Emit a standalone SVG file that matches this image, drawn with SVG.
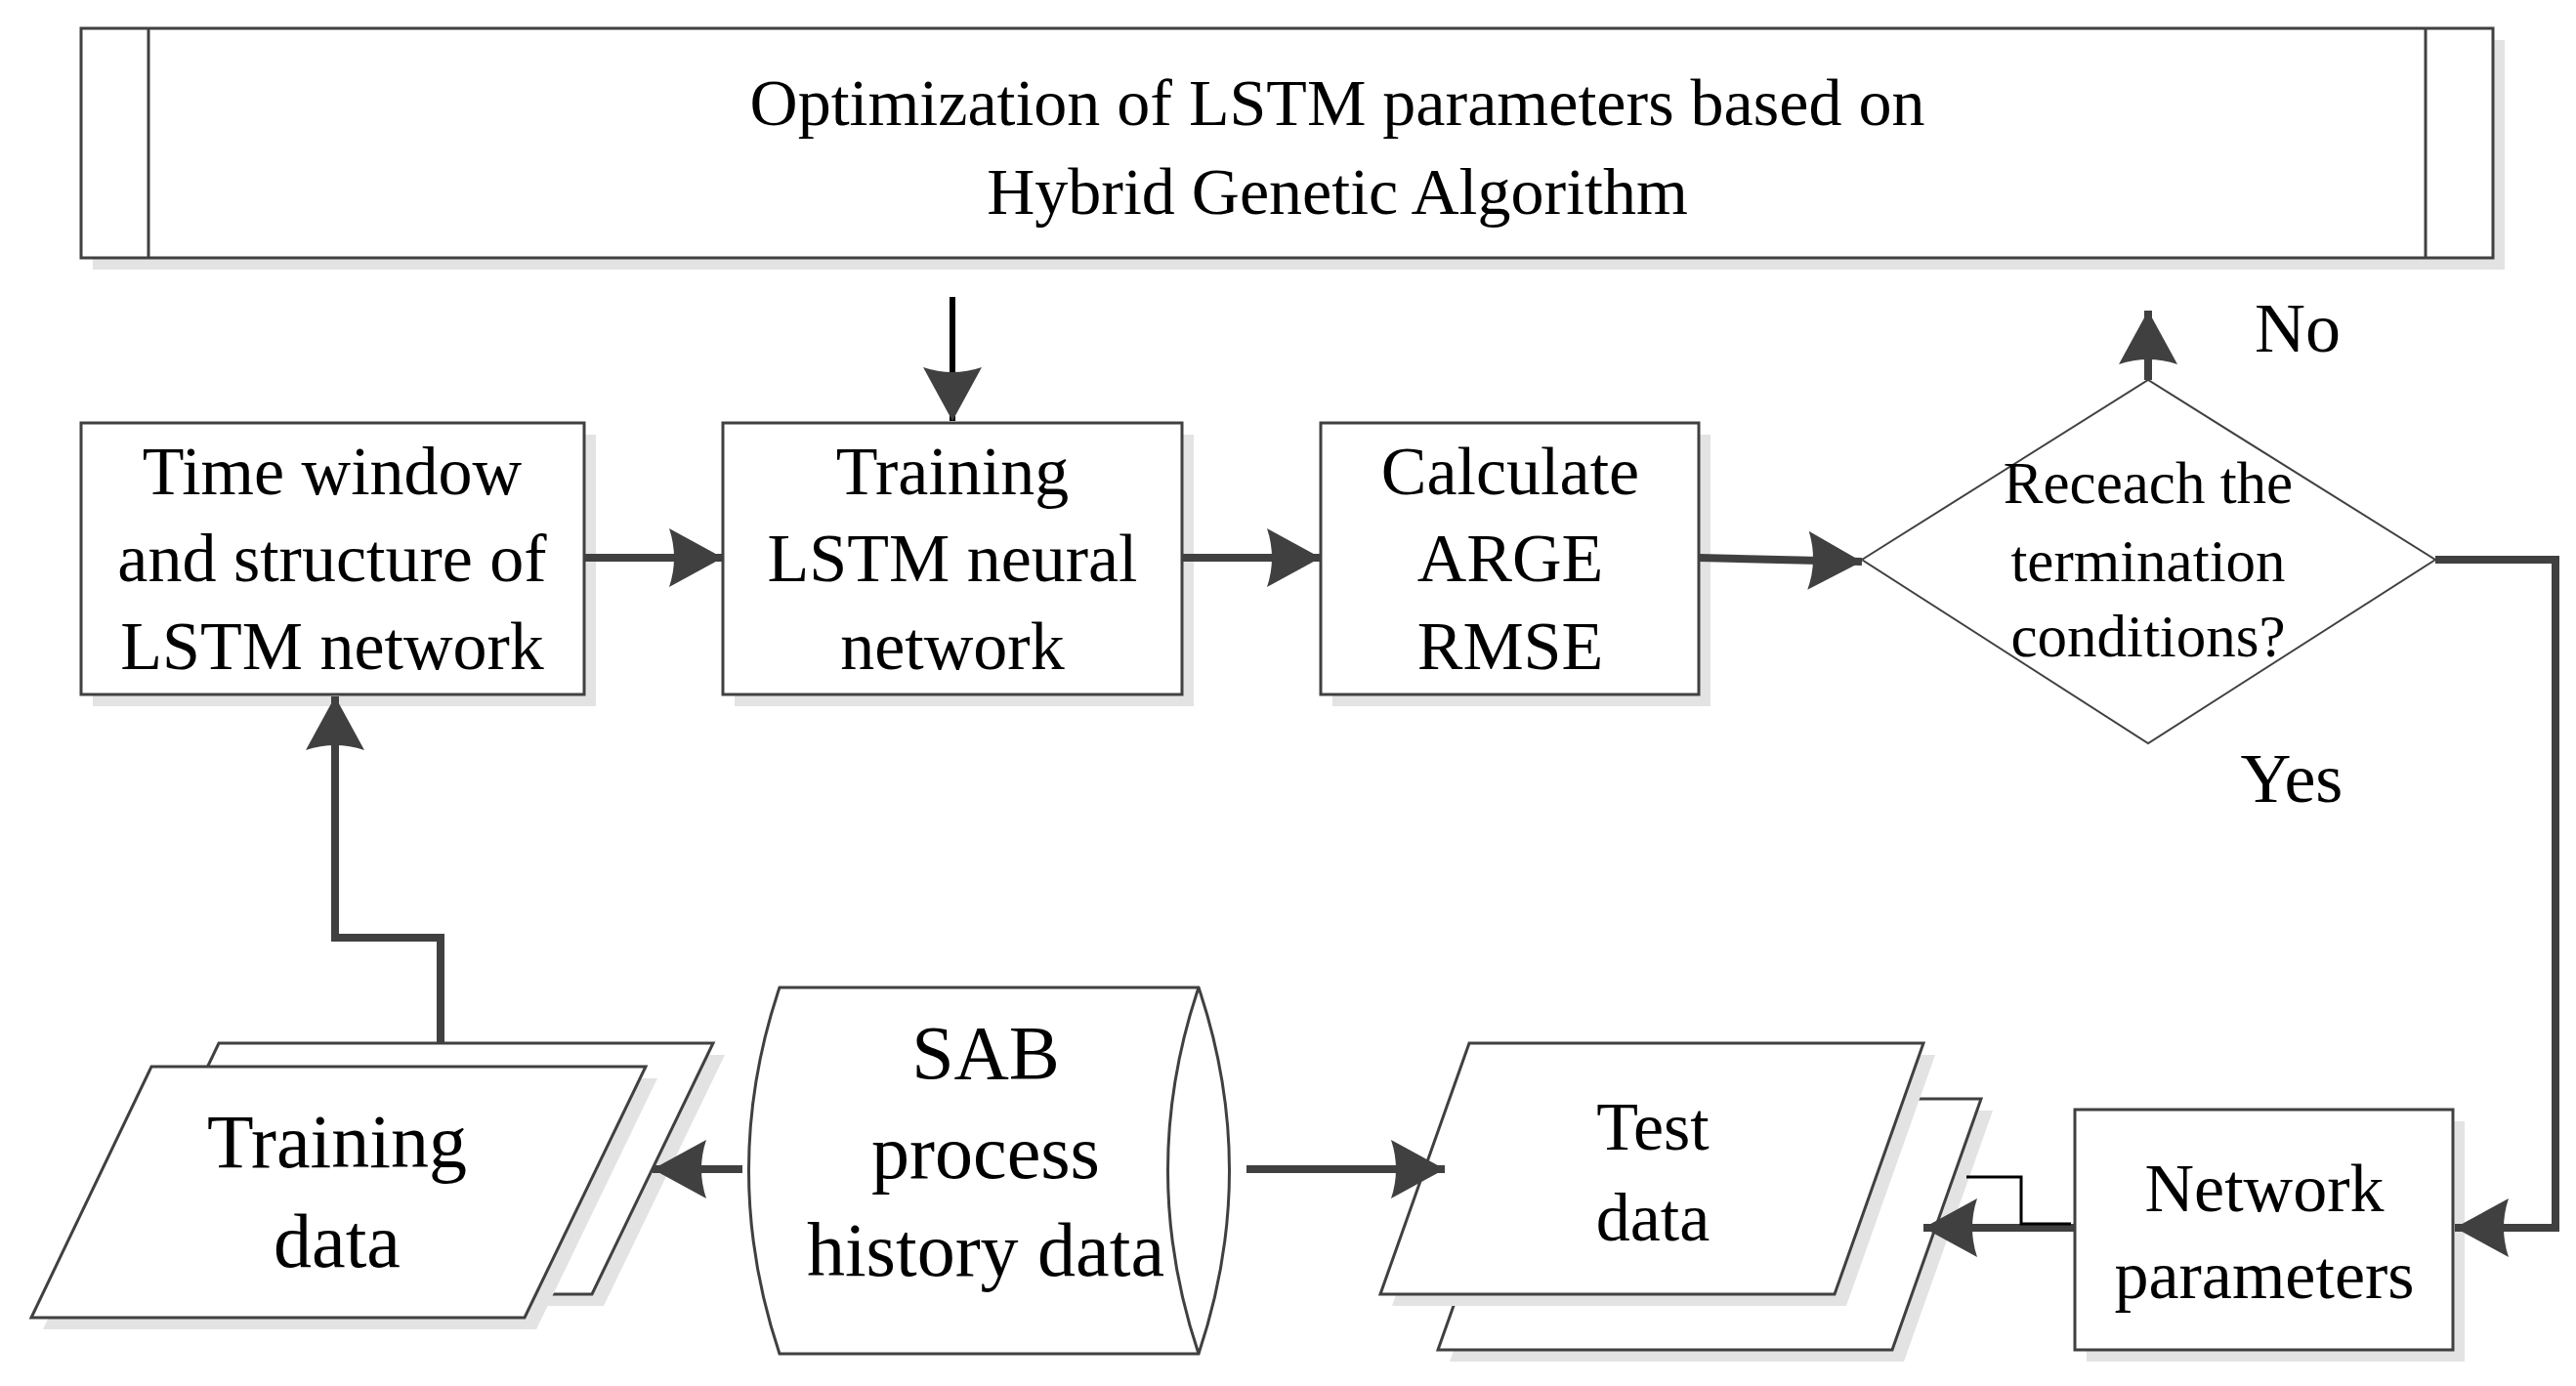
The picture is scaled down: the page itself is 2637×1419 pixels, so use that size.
<svg xmlns="http://www.w3.org/2000/svg" width="2637" height="1419" viewBox="0 0 2637 1419">
<style>
.s{fill:#fff;stroke:#404040;stroke-width:3}
.sh{fill:#e3e3e3;stroke:none}
.t{font-family:"Liberation Serif",serif;fill:#000;text-anchor:middle}
.c{fill:none;stroke:#404040;stroke-width:8}
</style>
<defs>
<marker id="a" markerUnits="userSpaceOnUse" markerWidth="60" markerHeight="64" refX="55" refY="32" orient="auto">
<path d="M0,2 L55,32 L0,62 Q10,32 0,2 Z" fill="#404040"/>
</marker>
</defs>
<rect width="2637" height="1419" fill="#fff"/>
<g id="top">
<rect class="sh" x="95" y="41" width="2469" height="235"/>
<rect class="s" x="83" y="29" width="2469" height="235"/>
<line class="s" x1="152" y1="29" x2="152" y2="264"/>
<line class="s" x1="2483" y1="29" x2="2483" y2="264"/>
<text class="t" x="1369" y="128" font-size="68">Optimization of LSTM parameters based on</text>
<text class="t" x="1369" y="219" font-size="68">Hybrid Genetic Algorithm</text>
</g>
<g id="box1">
<rect class="sh" x="95" y="445" width="515" height="278"/>
<rect class="s" x="83" y="433" width="515" height="278"/>
<text class="t" font-size="70" x="340"><tspan x="340" y="506">Time window</tspan><tspan x="340" y="595">and structure of</tspan><tspan x="340" y="685">LSTM network</tspan></text>
</g>
<g id="box2">
<rect class="sh" x="752" y="445" width="470" height="278"/>
<rect class="s" x="740" y="433" width="470" height="278"/>
<text class="t" font-size="70" x="975"><tspan x="975" y="506">Training</tspan><tspan x="975" y="595">LSTM neural</tspan><tspan x="975" y="685">network</tspan></text>
</g>
<g id="box3">
<rect class="sh" x="1364" y="445" width="387" height="278"/>
<rect class="s" x="1352" y="433" width="387" height="278"/>
<text class="t" font-size="70" x="1546"><tspan x="1546" y="506">Calculate</tspan><tspan x="1546" y="595">ARGE</tspan><tspan x="1546" y="685">RMSE</tspan></text>
</g>
<g id="diamond">
<polygon points="1906,573 2199,389 2493,573 2199,761" fill="#fff" stroke="#404040" stroke-width="2"/>
<text class="t" font-size="61" x="2199"><tspan x="2199" y="515">Receach the</tspan><tspan x="2199" y="595">termination</tspan><tspan x="2199" y="672">conditions?</tspan></text>
</g>
<g id="labels">
<text class="t" font-size="72" x="2352" y="360">No</text>
<text class="t" font-size="72" x="2346" y="821">Yes</text>
</g>
<g id="netparams">
<rect class="sh" x="2136" y="1148" width="387" height="246"/>
<rect class="s" x="2124" y="1136" width="387" height="246"/>
<text class="t" font-size="70" x="2318"><tspan x="2318" y="1240">Network</tspan><tspan x="2318" y="1329">parameters</tspan></text>
</g>
<g id="testdata">
<polygon class="sh" points="1575,1137 2040,1137 1949,1394 1484,1394"/>
<polygon class="s" points="1563,1125 2028,1125 1937,1382 1472,1382"/>
<polygon class="sh" points="1516,1080 1981,1080 1890,1337 1425,1337"/>
<polygon class="s" points="1504,1068 1969,1068 1878,1325 1413,1325"/>
<text class="t" font-size="70" x="1692"><tspan x="1692" y="1177">Test</tspan><tspan x="1692" y="1270">data</tspan></text>
</g>
<g id="trainingdata">
<polygon class="sh" points="236,1080 742,1080 618,1337 113,1337"/>
<polygon class="s" points="224,1068 730,1068 606,1325 101,1325"/>
<polygon class="sh" points="167,1104 673,1104 549,1361 44,1361"/>
<polygon class="s" points="155,1092 661,1092 537,1349 32,1349"/>
<text class="t" font-size="78" x="345"><tspan x="345" y="1195">Training</tspan><tspan x="345" y="1297">data</tspan></text>
</g>
<g id="cylinder">
<path class="s" d="M798,1011 L1227,1011 Q1290,1198 1227,1386 L798,1386 Q735,1198 798,1011 Z"/>
<path class="s" d="M1227,1011 Q1164,1198 1227,1386"/>
<text class="t" font-size="78" x="1009"><tspan x="1009" y="1104">SAB</tspan><tspan x="1009" y="1206">process</tspan><tspan x="1009" y="1306">history data</tspan></text>
</g>
<g id="connectors">
<line class="c" x1="975" y1="304" x2="975" y2="431" stroke="#000" style="stroke:#000;stroke-width:6" marker-end="url(#a)"/>
<line class="c" x1="598" y1="571" x2="740" y2="571" marker-end="url(#a)"/>
<line class="c" x1="1210" y1="571" x2="1352" y2="571" marker-end="url(#a)"/>
<line class="c" x1="1739" y1="571" x2="1906" y2="575" marker-end="url(#a)"/>
<line class="c" x1="2199" y1="389" x2="2199" y2="318" marker-end="url(#a)"/>
<polyline class="c" points="2493,573 2616,573 2616,1257 2513,1257" marker-end="url(#a)"/>
<line class="c" x1="2124" y1="1257" x2="1969" y2="1257" marker-end="url(#a)"/>
<polyline points="2013,1205 2069,1205 2069,1253 2120,1253" fill="none" stroke="#000" stroke-width="3"/>
<line class="c" x1="760" y1="1197" x2="668" y2="1197" marker-end="url(#a)"/>
<line class="c" x1="1276" y1="1197" x2="1479" y2="1197" marker-end="url(#a)"/>
<polyline class="c" points="451,1068 451,960 343,960 343,713" marker-end="url(#a)"/>
</g>
</svg>
